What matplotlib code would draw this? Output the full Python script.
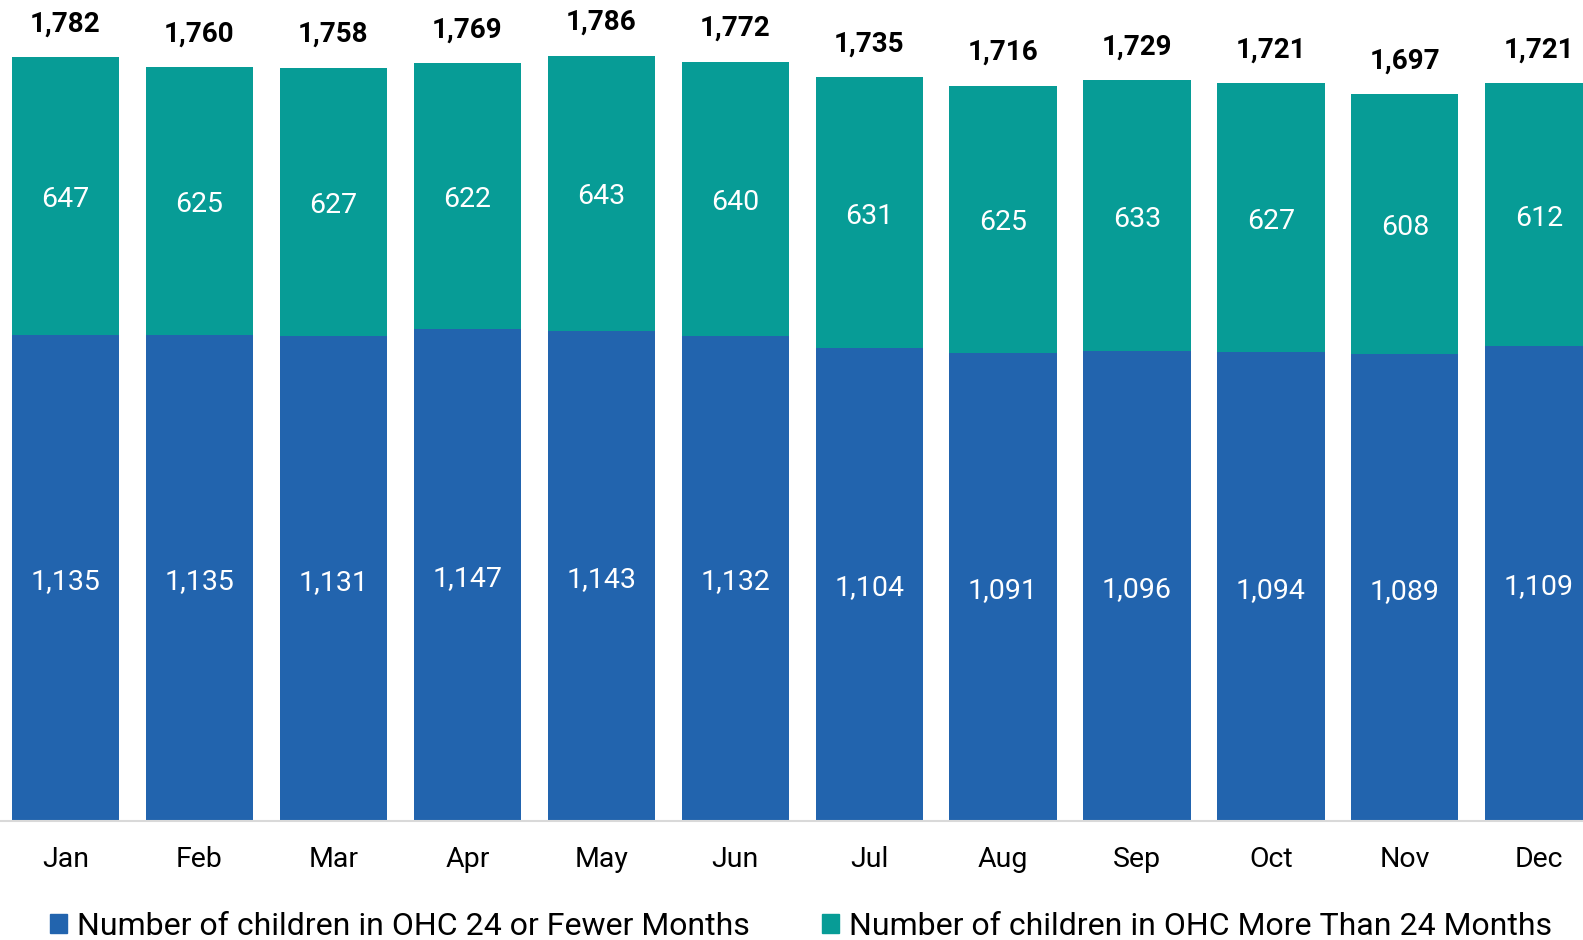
import matplotlib.pyplot as plt
import numpy as np
from matplotlib.patches import Patch

months = ['Jan', 'Feb', 'Mar', 'Apr', 'May', 'Jun',
          'Jul', 'Aug', 'Sep', 'Oct', 'Nov', 'Dec']
short_stay = [1135, 1135, 1131, 1147, 1143, 1132, 1104, 1091, 1096, 1094, 1089, 1109]
long_stay = [647, 625, 627, 622, 643, 640, 631, 625, 633, 627, 608, 612]
series_names = ['Number of children in OHC 24 or Fewer Months',
                'Number of children in OHC More Than 24 Months']

BLUE = '#2264AE'
TEAL = '#079C96'

plt.rcParams['font.family'] = ['Roboto', 'DejaVu Sans']

fig = plt.figure(figsize=(15.83, 9.40), dpi=100)
ax = fig.add_axes([0, 0.1266, 1, 0.8734])

x = np.arange(len(months))
a = np.array(short_stay)
b = np.array(long_stay)
tot = a + b

ax.bar(x, a, width=0.8, color=BLUE)
ax.bar(x, b, width=0.8, bottom=a, color=TEAL)

for xi, ai, bi, ti in zip(x, a, b, tot):
    ax.annotate(f'{ai:,}', (xi, ai / 2), xytext=(0, -2.5), textcoords='offset points',
                ha='center', va='center', color='white', fontsize=20.5)
    ax.annotate(f'{bi:,}', (xi, ai + bi / 2), xytext=(0, -2.5), textcoords='offset points',
                ha='center', va='center', color='white', fontsize=20.5)
    ax.annotate(f'{ti:,}', (xi, ti), xytext=(0, 14), textcoords='offset points',
                ha='center', va='bottom', fontsize=20, fontweight='bold')

ax.set_xlim(-0.489, 11.33)
ax.set_ylim(0, 1915.6)
ax.set_xticks(x)
ax.set_xticklabels(months, fontsize=20.5)
ax.tick_params(axis='x', length=0, pad=18)
ax.set_yticks([])
for s in ('top', 'right', 'left'):
    ax.spines[s].set_visible(False)
ax.spines['bottom'].set_color('#d9d9d9')
ax.spines['bottom'].set_linewidth(1.5)

handles = [Patch(color=BLUE), Patch(color=TEAL)]
fig.legend(handles, series_names, loc='center', bbox_to_anchor=(0.506, 0.0145),
           ncol=2, frameon=False, fontsize=23, handlelength=0.55,
           handleheight=0.55, handletextpad=0.3, columnspacing=2.25,
           borderpad=0)

fig.savefig('out.png', dpi=100)
